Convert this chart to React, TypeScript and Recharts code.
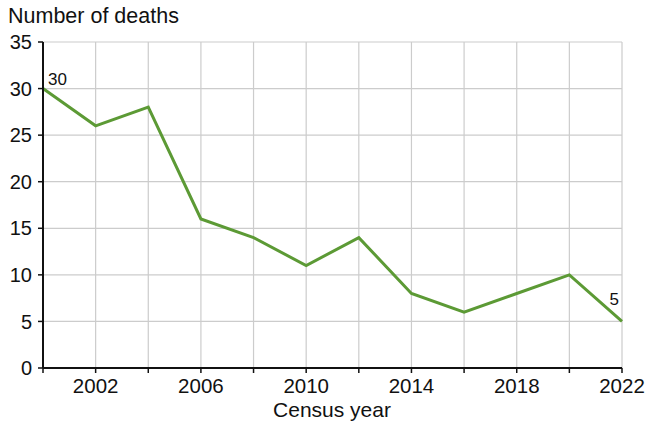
import React from "react";
import { LineChart, Line, XAxis, YAxis, CartesianGrid } from "recharts";

const years = [2000, 2002, 2004, 2006, 2008, 2010, 2012, 2014, 2016, 2018, 2020, 2022];
const deaths = [30, 26, 28, 16, 14, 11, 14, 8, 6, 8, 10, 5];
const xTicks = [2000, 2002, 2004, 2006, 2008, 2010, 2012, 2014, 2016, 2018, 2020, 2022];
const xLabeled = [2002, 2006, 2010, 2014, 2018, 2022];
const yTicks = [0, 5, 10, 15, 20, 25, 30, 35];
const labeledYears = [2000, 2022];

const data = years.map((y, i) => ({ year: y, deaths: deaths[i] }));

const FONT = "'Liberation Sans', Arial, Helvetica, sans-serif";
const GREEN = "#5c9a35";

const PointLabel = (props: any) => {
  const { x, y, value, index } = props;
  const yr = years[index];
  if (!labeledYears.includes(yr)) return null;
  const isFirst = index === 0;
  return (
    <text
      x={isFirst ? x + 5 : x - 3}
      y={isFirst ? y - 4 : y - 16}
      textAnchor={isFirst ? "start" : "end"}
      fontSize={17}
      fontFamily={FONT}
      fill="#111"
    >
      {value}
    </text>
  );
};

export default function App() {
  return (
    <div style={{ position: "absolute", left: 0, top: 0, width: 646, height: 421, background: "#fff" }}>
      <div
        style={{
          position: "absolute",
          left: 8,
          top: 4,
          fontFamily: FONT,
          fontSize: 21.5,
          color: "#111",
          lineHeight: "24px",
          whiteSpace: "nowrap",
        }}
      >
        Number of deaths
      </div>
      <div
        style={{
          position: "absolute",
          left: 0,
          width: 664,
          top: 398,
          textAlign: "center",
          fontFamily: FONT,
          fontSize: 21,
          color: "#111",
          lineHeight: "24px",
          whiteSpace: "nowrap",
        }}
      >
        Census year
      </div>
      <LineChart
        width={646}
        height={421}
        data={data}
        margin={{ top: 42, right: 24, bottom: 0, left: 0 }}
      >
        <CartesianGrid stroke="#cccccc" strokeWidth={1.2} vertical horizontal />
        <XAxis
          dataKey="year"
          type="number"
          domain={[2000, 2022]}
          ticks={xTicks}
          interval={0}
          tickFormatter={(v: number) => (xLabeled.includes(v) ? String(v) : "")}
          axisLine={{ stroke: "#111", strokeWidth: 2 }}
          tickLine={{ stroke: "#111", strokeWidth: 1.5 }}
          tickSize={5}
          tickMargin={5}
          tick={{ fill: "#111", fontSize: 20.5, fontFamily: FONT }}
          height={53}
        />
        <YAxis
          type="number"
          domain={[0, 35]}
          ticks={yTicks}
          interval={0}
          width={43}
          axisLine={{ stroke: "#111", strokeWidth: 2 }}
          tickLine={{ stroke: "#111", strokeWidth: 1.5 }}
          tickSize={5}
          tickMargin={6}
          tick={{ fill: "#111", fontSize: 20, fontFamily: FONT }}
        />
        <Line
          type="linear"
          dataKey="deaths"
          stroke={GREEN}
          strokeWidth={3}
          dot={false}
          activeDot={false}
          isAnimationActive={false}
          label={<PointLabel />}
        />
      </LineChart>
    </div>
  );
}
